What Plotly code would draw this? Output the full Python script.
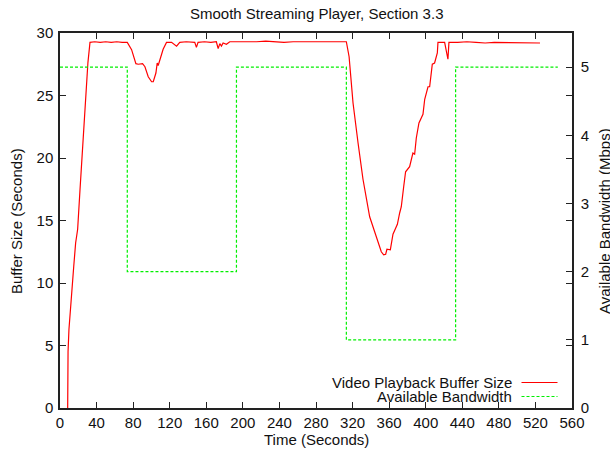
import plotly.graph_objects as go

# ---- data ----
buf_time = [8.4, 8.8, 9.8, 11.0, 13.0, 15.0, 17.1, 19.3, 22.0, 25.0, 28.1, 29.1, 30.5, 32.8,
            38, 44, 50, 56, 62, 68, 73.6, 78.3, 83.0, 85.6, 90.3, 92.9, 96.5, 100.2, 102.0,
            104.9, 106.3, 107.4, 109.2, 111.0, 112.8, 116.5, 122, 127.5, 131, 138, 147.4,
            149.2, 151, 158, 165, 171, 173, 174.8, 176.6, 178.4, 182, 185.7,
            195, 205, 215, 225, 235, 245, 255, 265, 275, 285, 295, 305, 313.2,
            316.2, 320.5, 326, 331.4, 338.7, 347.8, 351.4, 354, 356.2, 357.6, 361.3, 364.2,
            369, 371.5, 373.3, 375.9, 378, 382.4, 386, 387.9, 389.7, 392.6, 397, 398.9,
            402.5, 404.3, 407.2, 409.7, 412.7, 413.4, 420.7, 424.3, 425.4,
            435, 445, 455, 465, 475, 485, 495, 505, 515, 525, 532.5]
buf_size = [0, 4.5, 6.3, 7.6, 9.4, 11.3, 13.2, 14.3, 17.6, 21.3, 25.5, 26.3, 27.6, 29.25,
            29.3, 29.25, 29.3, 29.25, 29.3, 29.25, 29.25, 28.67, 27.55, 27.5, 27.55, 27.3, 26.5, 26.1, 26.1,
            26.8, 27.6, 27.4, 27.8, 28.2, 28.7, 29.25, 29.25, 28.95, 29.25, 29.3, 29.25,
            28.85, 29.25, 29.3, 29.25, 29.3, 28.75, 29.15, 28.95, 29.2, 29.1, 29.3,
            29.3, 29.25, 29.3, 29.35, 29.3, 29.25, 29.3, 29.3, 29.25, 29.3, 29.3, 29.25, 29.3,
            28.1, 24.4, 21.2, 18.3, 15.3, 13.3, 12.5, 12.26, 12.3, 12.7, 12.66, 13.9,
            14.7, 15.6, 16.1, 17.7, 18.9, 19.3, 20.4, 20.3, 21.6, 22.8, 23.5, 24.7,
            25.7, 25.7, 27.5, 27.6, 28.4, 29.25, 29.25, 27.9, 29.25,
            29.25, 29.3, 29.25, 29.2, 29.25, 29.25, 29.2, 29.25, 29.25, 29.2]

bw_time = [0, 73.6, 193, 313.2, 432.7, 544.5]
bw_mbps = [5, 2, 5, 1, 5, 5]

x_ticks = list(range(0, 561, 40))
y_ticks = list(range(0, 31, 5))
y2_ticks = [0, 1, 2, 3, 4, 5]

series_names = ["Video Playback Buffer Size", "Available Bandwidth"]
RED = "#ff0000"
GREEN = "#00f000"

FONT = "Liberation Sans, Arial, Helvetica, sans-serif"
FS = 15

fig = go.Figure()
fig.add_trace(go.Scatter(x=buf_time, y=buf_size, mode="lines",
                         line=dict(color=RED, width=1.2),
                         name=series_names[0], showlegend=False))
fig.add_trace(go.Scatter(x=bw_time, y=bw_mbps, mode="lines", yaxis="y2",
                         line=dict(color=GREEN, width=1.2, dash="3px,2px", shape="hv"),
                         name=series_names[1], showlegend=False))

L, R, T, B = 60, 38, 33, 43
W, H = 610, 451
pw, ph = W - L - R, H - T - B

def px_x(p):
    return (p - L) / pw

def px_y(p):
    return (H - B - p) / ph

axis_common = dict(showline=True, linecolor="#222", linewidth=1.5, ticks="inside",
                   ticklen=6, tickcolor="#222", tickwidth=1, showgrid=False, zeroline=False,
                   tickfont=dict(family=FONT, size=FS, color="#111"))

fig.update_layout(
    width=W, height=H, margin=dict(l=L, r=R, t=T, b=B, pad=0),
    paper_bgcolor="white", plot_bgcolor="white",
    font=dict(family=FONT, size=FS, color="#111"),
    xaxis=dict(range=[0, 560], tickvals=x_ticks, mirror="ticks", **axis_common),
    yaxis=dict(range=[0, 30], tickvals=y_ticks, mirror="ticks", ticklabelstandoff=2, **axis_common),
    yaxis2=dict(range=[0, 5.5], tickvals=y2_ticks, overlaying="y", side="right",
                ticklabelstandoff=4, **axis_common),
)

ann = []
ann.append(dict(text="Smooth Streaming Player, Section 3.3", x=0.5, y=px_y(13),
                xref="paper", yref="paper", xanchor="center", yanchor="middle",
                showarrow=False, font=dict(size=FS)))
ann.append(dict(text="Time (Seconds)", x=0.5, y=px_y(439), xref="paper", yref="paper",
                xanchor="center", yanchor="middle", showarrow=False, font=dict(size=FS)))
ann.append(dict(text="Buffer Size (Seconds)", x=px_x(16), y=px_y(221), xref="paper", yref="paper",
                xanchor="center", yanchor="middle", textangle=-90, showarrow=False,
                font=dict(size=FS)))
ann.append(dict(text="Available Bandwidth (Mbps)", x=px_x(604), y=px_y(221), xref="paper",
                yref="paper", xanchor="center", yanchor="middle", textangle=-90,
                showarrow=False, font=dict(size=FS)))
# legend (gnuplot style: text on the left, sample on the right)
leg_rows = [382.5, 396.5]
leg_colors = [RED, GREEN]
leg_dash = ["solid", "3px,2px"]
shapes = []
for name, py, col, dsh in zip(series_names, leg_rows, leg_colors, leg_dash):
    ann.append(dict(text=name, x=px_x(514), y=px_y(py), xref="paper", yref="paper",
                    xanchor="right", yanchor="middle", showarrow=False, font=dict(size=FS)))
    shapes.append(dict(type="line", xref="paper", yref="paper", x0=px_x(521.5), x1=px_x(557.5),
                       y0=px_y(py), y1=px_y(py), line=dict(color=col, width=1.2, dash=dsh)))

fig.update_layout(annotations=ann, shapes=shapes)
fig.write_html("out.html")
